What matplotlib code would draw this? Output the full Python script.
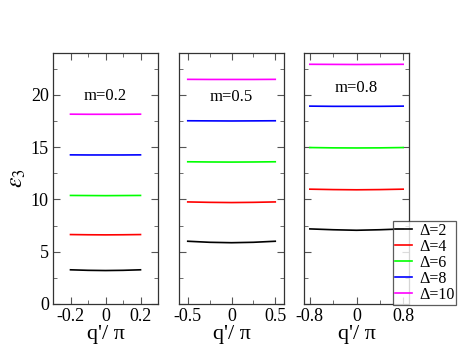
import matplotlib
matplotlib.use("Agg")
import matplotlib.pyplot as plt
from matplotlib.ticker import MultipleLocator

plt.rcParams['font.family'] = ['Liberation Serif', 'DejaVu Serif']
plt.rcParams['mathtext.fontset'] = 'stix'

deltas = ["Δ=2", "Δ=4", "Δ=6", "Δ=8", "Δ=10"]
colors = ["black", "red", "#00ff00", "blue", "magenta"]
masses = ["m=0.2", "m=0.5", "m=0.8"]

# q'/pi sample points for each panel
q_m02 = [-0.2, -0.1, 0.0, 0.1, 0.2]
q_m05 = [-0.5, -0.25, 0.0, 0.25, 0.5]
q_m08 = [-0.8, -0.4, 0.0, 0.4, 0.8]

# epsilon_3 values, rows = Delta 2,4,6,8,10
eps_m02 = [
    [3.27, 3.22, 3.20, 3.22, 3.27],
    [6.64, 6.62, 6.61, 6.62, 6.64],
    [10.38, 10.37, 10.36, 10.37, 10.38],
    [14.26, 14.25, 14.25, 14.25, 14.26],
    [18.15, 18.14, 18.14, 18.14, 18.15],
]
eps_m05 = [
    [6.00, 5.90, 5.86, 5.90, 6.00],
    [9.76, 9.72, 9.70, 9.72, 9.76],
    [13.60, 13.58, 13.57, 13.58, 13.60],
    [17.52, 17.51, 17.50, 17.51, 17.52],
    [21.48, 21.47, 21.47, 21.47, 21.48],
]
eps_m08 = [
    [7.18, 7.10, 7.05, 7.10, 7.18],
    [10.98, 10.94, 10.92, 10.94, 10.98],
    [14.96, 14.93, 14.92, 14.93, 14.96],
    [18.92, 18.90, 18.90, 18.90, 18.92],
    [22.92, 22.91, 22.90, 22.91, 22.92],
]

panels = [
    (q_m02, eps_m02, (-0.3, 0.3), [-0.2, 0, 0.2], ["-0.2", "0", "0.2"], 0.1, 19.9),
    (q_m05, eps_m05, (-0.6, 0.6), [-0.5, 0, 0.5], ["-0.5", "0", "0.5"], 0.25, 19.8),
    (q_m08, eps_m08, (-0.9, 0.9), [-0.8, 0, 0.8], ["-0.8", "0", "0.8"], 0.4, 20.7),
]

fig = plt.figure(figsize=(4.63, 3.58), dpi=100)
W, H = 463, 358
lefts = [53, 179, 304]
axw = 105
bottom_px, top_px = 304, 53

for i, (q, eps, xl, xt, xtl, minor, ty) in enumerate(panels):
    ax = fig.add_axes([lefts[i] / W, 1 - bottom_px / H, axw / W, (bottom_px - top_px) / H])
    for row, c, lab in zip(eps, colors, deltas):
        ax.plot(q, row, color=c, lw=1.2, label=lab)
    ax.set_xlim(*xl)
    ax.set_ylim(0, 24)
    ax.set_xticks(xt)
    ax.set_xticklabels(xtl)
    ax.xaxis.set_minor_locator(MultipleLocator(minor))
    ax.yaxis.set_major_locator(MultipleLocator(5))
    ax.yaxis.set_minor_locator(MultipleLocator(2.5))
    ax.tick_params(which='both', direction='in', top=True, right=True, color='#555555', labelsize=13)
    ax.tick_params(which='major', length=5, pad=3)
    ax.tick_params(which='minor', length=3)
    for s in ax.spines.values():
        s.set_color('#333333')
        s.set_linewidth(0.9)
    if i > 0:
        ax.set_yticklabels([])
    else:
        ax.set_ylabel(r'$\varepsilon_3$', fontsize=17, labelpad=2)
    ax.set_xlabel("q'/ π", fontsize=16, labelpad=0)
    ax.text(0, ty, masses[i], ha='center', va='center', fontsize=12)
    if i == 2:
        leg = ax.legend(loc='lower left', bbox_to_anchor=(89 / axw, -0.004), fontsize=11.5,
                        frameon=True, fancybox=False, handlelength=1.05, handletextpad=0.45,
                        borderpad=0.12, labelspacing=0.0, borderaxespad=0)
        leg.get_frame().set_edgecolor('#333333')
        leg.get_frame().set_linewidth(0.9)

fig.savefig("out.png", dpi=100)
